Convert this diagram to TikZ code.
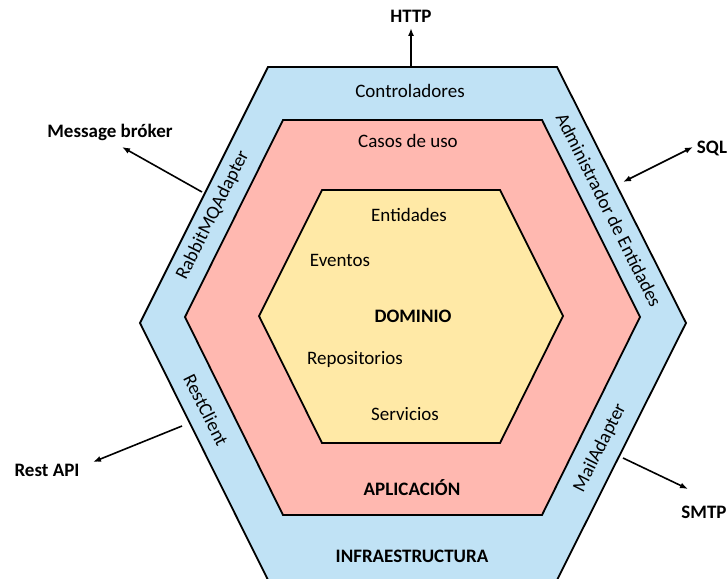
\documentclass[tikz,border=0pt]{standalone}
\usepackage{fontspec}
\setmainfont{Carlito}
\usetikzlibrary{arrows.meta}
\definecolor{infra}{RGB}{192,226,245}
\definecolor{aplic}{RGB}{255,184,176}
\definecolor{domin}{RGB}{255,233,166}
\tikzset{
  hexline/.style={draw=black, line width=1.8pt, line join=miter},
  lbl/.style={font=\fontsize{19}{22}\selectfont, inner sep=0pt},
  blbl/.style={font=\fontsize{19}{22}\selectfont\bfseries, inner sep=0pt},
  conn/.style={line width=1.6pt, -{Latex[length=8pt,width=6pt]}},
  conn2/.style={line width=1.6pt, {Latex[length=8pt,width=6pt]}-{Latex[length=8pt,width=6pt]}}
}
\begin{document}
\begin{tikzpicture}[x=1pt,y=-1pt]
\useasboundingbox (0,0) rectangle (727,578);
% hexagons
\draw[hexline, fill=infra] (268,67) -- (557,67) -- (686,323) -- (557,580) -- (268,580) -- (140,323) -- cycle;
\draw[hexline, fill=aplic] (283,120) -- (542,120) -- (640,317) -- (542,515) -- (283,515) -- (185,317) -- cycle;
\draw[hexline, fill=domin] (322,190) -- (500,190) -- (563,316) -- (500,443) -- (322,443) -- (259,316) -- cycle;
% inner texts
\node[lbl] (ctrl) at (410,91) {Controladores};
\node[lbl] (casos) at (408,141) {Casos de uso};
\node[lbl] (ent) at (409,215) {Entidades};
\node[lbl] (evt) at (340,260) {Eventos};
\node[blbl] (dom) at (413,316) {DOMINIO};
\node[lbl] (repo) at (355,359) {Repositorios};
\node[lbl] (serv) at (405,414) {Servicios};
\node[blbl] (apl) at (412,488) {APLICACIÓN};
\node[blbl] (inf) at (412,556) {INFRAESTRUCTURA};
% edge texts
\node[lbl, rotate=63.43] (rabbit) at (213,215) {RabbitMQAdapter};
\node[lbl, rotate=-63.43] (admin) at (609,210) {Administrador de Entidades};
\node[lbl, rotate=-63.43] (rest) at (206,410) {RestClient};
\node[lbl, rotate=63.43] (mail) at (600,448) {MailAdapter};
% outside labels
\node[blbl] (http) at (411,16) {HTTP};
\node[blbl] (broker) at (110,132) {Message bróker};
\node[blbl] (sql) at (712,148) {SQL};
\node[blbl] (restapi) at (47,470) {Rest API};
\node[blbl] (smtp) at (704,512) {SMTP};
% connector anchors
\coordinate (pHttpA) at (411,67);
\coordinate (pHttpB) at (411,28);
\coordinate (pBrkA) at (202,192);
\coordinate (pBrkB) at (122,147);
\coordinate (pSqlA) at (623,182);
\coordinate (pSqlB) at (693,147);
\coordinate (pRestA) at (182,426);
\coordinate (pRestB) at (93,462);
\coordinate (pSmtpA) at (623,458);
\coordinate (pSmtpB) at (688,489);
% connectors
\draw[conn] (pHttpA) -- (pHttpB);
\draw[conn] (pBrkA) -- (pBrkB);
\draw[conn2] (pSqlA) -- (pSqlB);
\draw[conn] (pRestA) -- (pRestB);
\draw[conn] (pSmtpA) -- (pSmtpB);
\end{tikzpicture}
\end{document}
